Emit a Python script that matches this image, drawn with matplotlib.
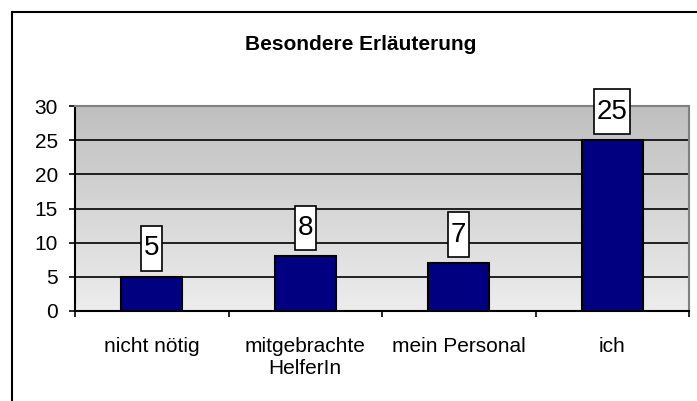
import numpy as np
import matplotlib.pyplot as plt
from matplotlib.path import Path
from matplotlib.lines import Line2D

plt.rcParams['font.family'] = ['Liberation Sans', 'DejaVu Sans']

title = 'Besondere Erläuterung'
categories = ['nicht nötig', 'mitgebrachte\nHelferIn', 'mein Personal', 'ich']
values = [5, 8, 7, 25]
yticks = [0, 5, 10, 15, 20, 25, 30]


def label_box(x0, y0, width, height, mutation_size):
    # excel style label box: tight at the sides, tall at top and bottom
    cx = x0 + width / 2
    cy = y0 + height / 2
    hw = width / 2 + 0.1 * mutation_size
    hh = 0.8 * mutation_size
    return Path([(cx - hw, cy - hh), (cx + hw, cy - hh), (cx + hw, cy + hh),
                 (cx - hw, cy + hh), (cx - hw, cy - hh)], closed=True)


fig = plt.figure(figsize=(6.97, 4.01), dpi=100)
ax = fig.add_axes([75 / 697, 90 / 401, 614 / 697, 205 / 401])

# gradient plot area
grad = np.linspace(0, 1, 256).reshape(-1, 1)
ax.imshow(grad, cmap=plt.matplotlib.colors.LinearSegmentedColormap.from_list(
    'g', ['#ededed', '#bfbfbf']), aspect='auto', origin='lower',
    extent=[-0.5, 3.5, 0, 30], zorder=0)

for v in yticks[1:-1]:
    ax.axhline(v, color='black', lw=1.2, zorder=1)

x = np.arange(len(categories))
ax.bar(x, values, width=0.4, color='#000080', edgecolor='black', lw=1.5, zorder=2)

for xi, v in zip(x, values):
    ax.annotate(str(v), (xi, v), xytext=(0, 20.5), textcoords='offset points',
                ha='center', va='center', fontsize=20, zorder=3,
                bbox=dict(boxstyle=label_box, fc='white', ec='black', lw=1.2))

ax.set_xlim(-0.5, 3.5)
ax.set_ylim(0, 30)
ax.set_yticks(yticks)
ax.set_xticks(x)
ax.set_xticklabels(categories)
ax.set_xticks(np.arange(-0.5, 4, 1), minor=True)
ax.tick_params(axis='x', which='major', length=0, pad=18.5, labelsize=15)
ax.tick_params(axis='x', which='minor', length=4, width=1.2, direction='out')
ax.tick_params(axis='y', length=4.3, width=1.2, pad=8, labelsize=15)

for s in ['left', 'bottom']:
    ax.spines[s].set_color('black')
    ax.spines[s].set_linewidth(1.5)
for s in ['top', 'right']:
    ax.spines[s].set_color('#808080')
    ax.spines[s].set_linewidth(1.5)

fig.text(361 / 697, 1 - 44 / 401, title, ha='center', va='center',
         fontsize=15, fontweight='bold')

# chart frame, cut off at the right and bottom
fig.add_artist(Line2D([11.5 / 697, 11.5 / 697], [0, 1 - 11.5 / 401],
                      transform=fig.transFigure, color='black', lw=1.5))
fig.add_artist(Line2D([11.5 / 697, 1], [1 - 11.5 / 401, 1 - 11.5 / 401],
                      transform=fig.transFigure, color='black', lw=1.5))

fig.savefig('out.png', dpi=100)
